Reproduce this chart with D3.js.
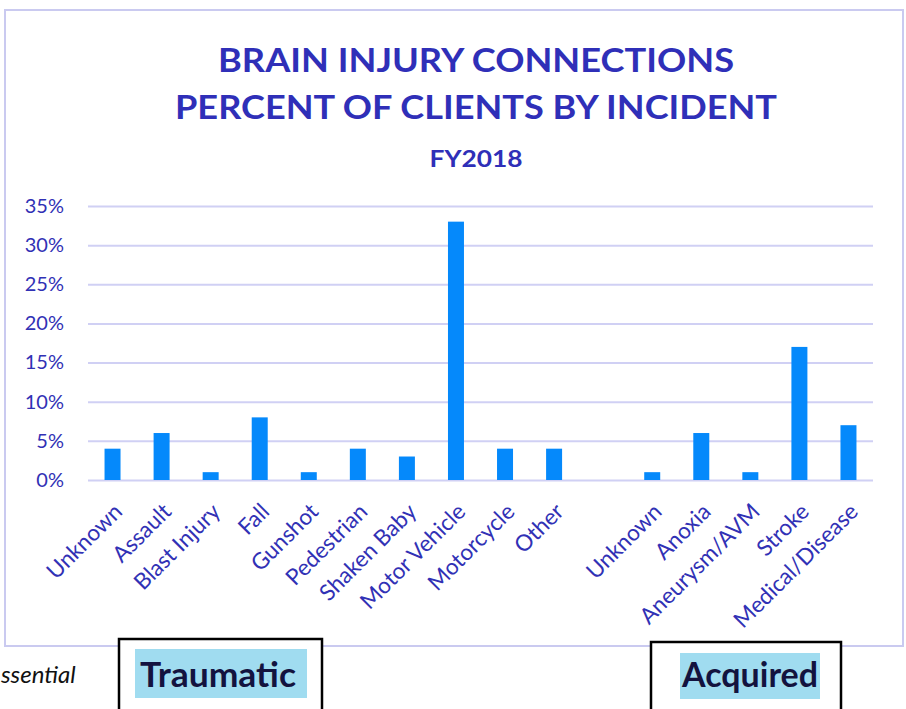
<!DOCTYPE html>
<html>
<head>
<meta charset="utf-8">
<script src="https://cdn.jsdelivr.net/npm/d3@7"></script>
<style>
  body { margin: 0; background: #fff; }
  svg { display: block; font-family: Lato, "Open Sans", sans-serif; }
</style>
</head>
<body>
<svg id="chart" width="906" height="709"></svg>
<script>
// chart values
var categories = ["Unknown", "Assault", "Blast Injury", "Fall", "Gunshot", "Pedestrian",
  "Shaken Baby", "Motor Vehicle", "Motorcycle", "Other", "",
  "Unknown", "Anoxia", "Aneurysm/AVM", "Stroke", "Medical/Disease"];
var percents = [4, 6, 1, 8, 1, 4, 3, 33, 4, 4, null, 1, 6, 1, 17, 7];
var yTicks = [0, 5, 10, 15, 20, 25, 30, 35];
var titleLines = ["BRAIN INJURY CONNECTIONS", "PERCENT OF CLIENTS BY INCIDENT"];
var subTitle = "FY2018";
var groupLabels = ["Traumatic", "Acquired"];

var svg = d3.select("#chart"),
    plot = {left: 88, right: 873, top: 206, bottom: 480},
    textBlue = "#3131b5";

// outer chart border
svg.append("rect")
  .attr("x", 5).attr("y", 10)
  .attr("width", 898).attr("height", 636)
  .attr("fill", "#fff")
  .attr("stroke", "#cacaf0")
  .attr("stroke-width", 2);

// titles
var titleY = [72, 119];
titleLines.forEach(function(t, i) {
  svg.append("text")
    .attr("x", 476).attr("y", titleY[i])
    .attr("text-anchor", "middle")
    .attr("font-size", 32)
    .attr("font-weight", "bold")
    .attr("fill", "#2f2fb8")
    .attr("textLength", i == 0 ? 516 : 602)
    .attr("lengthAdjust", "spacingAndGlyphs")
    .text(t);
});
svg.append("text")
  .attr("x", 476).attr("y", 167)
  .attr("text-anchor", "middle")
  .attr("font-size", 22)
  .attr("font-weight", "bold")
  .attr("fill", "#2f2fb8")
  .attr("textLength", 93)
  .attr("lengthAdjust", "spacingAndGlyphs")
  .text(subTitle);

var x = d3.scaleBand()
  .domain(d3.range(categories.length))
  .range([plot.left, plot.right])
  .paddingInner(0.674)
  .paddingOuter(0.337);

var y = d3.scaleLinear()
  .domain([0, 35])
  .range([plot.bottom, plot.top]);

// y axis + gridlines
var yAxis = svg.append("g")
  .attr("transform", "translate(" + plot.left + ",0)")
  .call(d3.axisLeft(y)
    .tickValues(yTicks)
    .tickSize(-(plot.right - plot.left))
    .tickPadding(24)
    .tickFormat(function(d) { return d + "%"; }));
yAxis.select(".domain").remove();
yAxis.selectAll("line")
  .attr("stroke", "#d0d0f4")
  .attr("stroke-width", 2);
yAxis.selectAll("text")
  .attr("fill", textBlue)
  .attr("font-size", 20)
  .attr("font-family", "Lato, sans-serif");

// bars
svg.append("g")
  .selectAll("rect")
  .data(percents.map(function(v, i) { return {i: i, v: v}; })
    .filter(function(d) { return d.v != null; }))
  .enter().append("rect")
  .attr("x", function(d) { return x(d.i); })
  .attr("y", function(d) { return y(d.v); })
  .attr("width", x.bandwidth())
  .attr("height", function(d) { return y(0) - y(d.v); })
  .attr("fill", "#0589fb");

// x axis labels
var xAxis = svg.append("g")
  .attr("transform", "translate(0," + plot.bottom + ")")
  .call(d3.axisBottom(x)
    .tickSize(0)
    .tickFormat(function(i) { return categories[i]; }));
xAxis.select(".domain").remove();
xAxis.selectAll("text")
  .attr("fill", textBlue)
  .attr("font-size", 22.5)
  .attr("font-family", "Lato, sans-serif")
  .attr("text-anchor", "end")
  .attr("x", 0).attr("y", 0).attr("dy", 0)
  .attr("transform", "translate(11,33) rotate(-45)");

// bottom notes
svg.append("text")
  .attr("x", 1).attr("y", 683)
  .attr("font-size", 24)
  .attr("font-style", "italic")
  .attr("fill", "#111")
  .text("ssential");

var boxes = [
  {x: 119, y: 639, w: 203, hx: 135, hy: 649, hw: 172, hh: 49, tx: 218, tl: 156},
  {x: 651, y: 642, w: 190, hx: 680, hy: 653, hw: 140, hh: 46, tx: 750, tl: 136}
];
boxes.forEach(function(b, i) {
  svg.append("rect")
    .attr("x", b.x).attr("y", b.y)
    .attr("width", b.w).attr("height", 90)
    .attr("fill", "#fff")
    .attr("stroke", "#000")
    .attr("stroke-width", 2.5);
  svg.append("rect")
    .attr("x", b.hx).attr("y", b.hy)
    .attr("width", b.hw).attr("height", b.hh)
    .attr("fill", "#a0dcf0");
  svg.append("text")
    .attr("x", b.tx).attr("y", 687)
    .attr("text-anchor", "middle")
    .attr("font-size", 34)
    .attr("font-weight", "bold")
    .attr("fill", "#13133f")
    .attr("textLength", b.tl)
    .attr("lengthAdjust", "spacingAndGlyphs")
    .text(groupLabels[i]);
});
</script>
</body>
</html>
